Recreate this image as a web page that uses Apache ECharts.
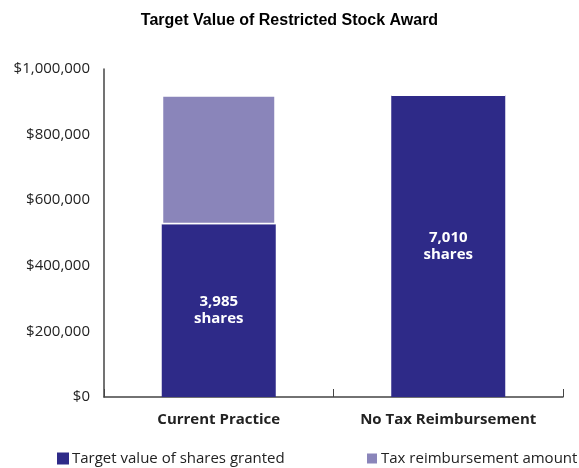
<!DOCTYPE html>
<html>
<head>
<meta charset="utf-8">
<script src="https://cdn.jsdelivr.net/npm/echarts@6/dist/echarts.min.js"></script>
<style>
  html, body { margin: 0; padding: 0; background: #fff; }
  #chart { width: 579px; height: 468px; }
</style>
</head>
<body>
<div id="chart"></div>
<script>
  // data
  const categories = ['Current Practice', 'No Tax Reimbursement'];
  const targetValue = [527000, 920000];
  const taxReimbursement = [393000, 0];
  const sharesGranted = [3985, 7010];
  const yTicks = [0, 200000, 400000, 600000, 800000, 1000000];

  const fontFam = '"Open Sans", "DejaVu Sans", sans-serif';

  let dom = document.getElementById('chart');
  let myChart = echarts.init(dom);
  let option = {
    animation: false,
    title: {
      text: 'Target Value of Restricted Stock Award',
      left: 'center',
      top: 8,
      textStyle: {
        fontFamily: 'Liberation Sans, Arial, sans-serif',
        fontWeight: 'bold',
        fontSize: 16,
        color: '#000',
      },
    },
    legend: [
      {
        data: ['Target value of shares granted'],
        left: 52,
        top: 446,
        itemWidth: 12,
        itemHeight: 12,
        icon: 'rect',
        textStyle: { fontFamily: fontFam, fontSize: 15, color: '#222', padding: [0, 0, 0, -2] },
      },
      {
        data: ['Tax reimbursement amount'],
        left: 360,
        top: 446,
        itemWidth: 12,
        itemHeight: 12,
        icon: 'rect',
        textStyle: { fontFamily: fontFam, fontSize: 15, color: '#222', padding: [0, 0, 0, -2] },
      },
    ],
    grid: {
      left: 104,
      right: 16,
      top: 69,
      bottom: 71,
    },
    xAxis: {
      type: 'category',
      data: categories,
      axisLine: { lineStyle: { color: '#444', width: 1.5 } },
      axisTick: { show: true, inside: true, length: 8, lineStyle: { color: '#444' } },
      axisLabel: {
        fontFamily: fontFam,
        fontWeight: 'bold',
        fontSize: 15,
        color: '#222',
        margin: 15,
      },
    },
    yAxis: {
      type: 'value',
      min: yTicks[0],
      max: yTicks[yTicks.length - 1],
      interval: yTicks[1] - yTicks[0],
      axisLine: { show: true, lineStyle: { color: '#444', width: 1.5 } },
      axisTick: { show: false },
      splitLine: { show: false },
      axisLabel: {
        fontFamily: fontFam,
        fontSize: 15,
        color: '#222',
        margin: 14,
        formatter: function (v) {
          return '$' + v.toLocaleString('en-US');
        },
      },
    },
    series: [
      {
        name: 'Target value of shares granted',
        type: 'bar',
        stack: 'total',
        barWidth: 114,
        data: targetValue,
        itemStyle: { color: '#2e2a88' },
        label: {
          show: true,
          position: 'inside',
          fontFamily: fontFam,
          fontWeight: 'bold',
          fontSize: 15,
          lineHeight: 17,
          color: '#fff',
          formatter: function (p) {
            return sharesGranted[p.dataIndex].toLocaleString('en-US') + '\nshares';
          },
        },
      },
      {
        name: 'Tax reimbursement amount',
        type: 'bar',
        stack: 'total',
        barWidth: 114,
        data: taxReimbursement,
        itemStyle: { color: '#8a85ba', borderColor: '#fff', borderWidth: 1.5 },
      },
    ],
  };
  myChart.setOption(option);
</script>
</body>
</html>
